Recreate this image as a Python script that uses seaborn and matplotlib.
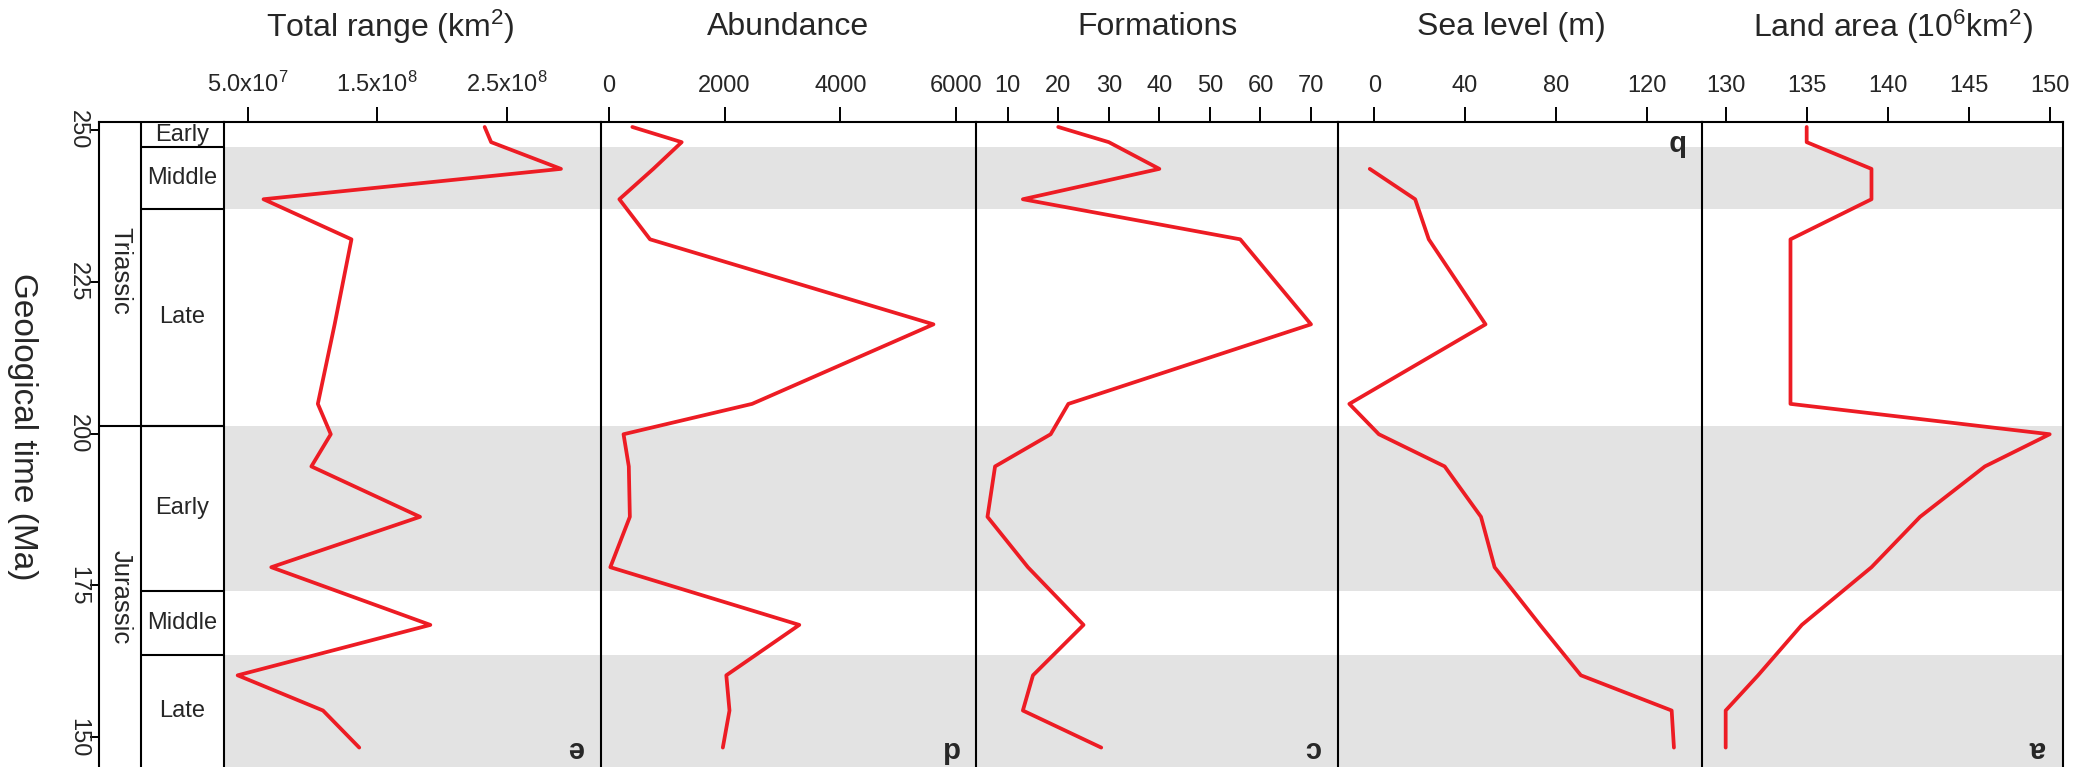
import numpy as np
import pandas as pd
import matplotlib
matplotlib.use("Agg")
import matplotlib.pyplot as plt
import seaborn as sns

# ---- data: one value per time bin (Ma), Early Triassic to Late Jurassic ----
age_ma = [250.5, 248.0, 243.6, 238.6, 232.0, 218.0, 204.9, 199.9,
          194.6, 186.3, 178.0, 168.5, 160.2, 154.4, 148.3]
total_range = [2.33e8, 2.38e8, 2.92e8, 6.2e7, 1.30e8, 1.17e8, 1.04e8, 1.14e8,
               0.99e8, 1.83e8, 0.68e8, 1.91e8, 4.2e7, 1.08e8, 1.36e8]
abundance = [408, 1260, 770, 184, 713, 5606, 2475, 256,
             347, 365, 28, 3290, 2030, 2085, 1970]
formations = [20, 30, 40, 13, 56, 70, 22, 18.5,
              7.5, 6, 14, 25, 15, 13, 28.5]
sea_level = [np.nan, np.nan, -2, 18, 24, 49, -11, 2,
             31, 47, 53, 73, 91, 131, 132]
land_area = [135, 135, 139, 139, 134, 134, 134, 150,
             146, 142, 139, 134.7, 132, 130, 130]

# stratigraphic units (Ma)
periods = [("Triassic", 252.2, 201.3), ("Jurassic", 201.3, 145.0)]
epochs = [("Early", 252.2, 247.2), ("Middle", 247.2, 237.0), ("Late", 237.0, 201.3),
          ("Early", 201.3, 174.1), ("Middle", 174.1, 163.5), ("Late", 163.5, 145.0)]
shaded = [(247.2, 237.0), (201.3, 174.1), (163.5, 145.0)]

panel_titles = ["Total range (km$^{2}$)", "Abundance", "Formations",
                "Sea level (m)", "Land area (10$^{6}$km$^{2}$)"]
panel_letters = ["e", "d", "c", "b", "a"]
panel_series = [total_range, abundance, formations, sea_level, land_area]
panel_ticks = [[5e7, 1.5e8, 2.5e8], [0, 2000, 4000, 6000],
               [10, 20, 30, 40, 50, 60, 70], [0, 40, 80, 120],
               [130, 135, 140, 145, 150]]
panel_ticklabels = [["5.0x10$^{7}$", "1.5x10$^{8}$", "2.5x10$^{8}$"],
                    ["0", "2000", "4000", "6000"],
                    ["10", "20", "30", "40", "50", "60", "70"],
                    ["0", "40", "80", "120"],
                    ["130", "135", "140", "145", "150"]]
time_ticks = [250, 225, 200, 175, 150]

# ---- layout ----
sns.set_style("white")
plt.rcParams["font.family"] = ["Liberation Sans", "DejaVu Sans"]
plt.rcParams["mathtext.fontset"] = "custom"
plt.rcParams["mathtext.rm"] = "Liberation Sans"
plt.rcParams["mathtext.default"] = "regular"

W, H = 2080, 767
fig = plt.figure(figsize=(W / 100, H / 100), dpi=100)
fig.patch.set_facecolor("white")

LINE_RED = "#ED1C24"
BAND_GREY = "#E3E3E3"
TOP, BOTTOM = 122, 767
YLIM = (145.1, 251.32)   # older ages at the top
edges = [224, 601, 975.7, 1338.3, 1701.7, 2063.3]
xlims = [(3.144e7, 3.2295e8), (-133, 6335), (3.67, 75.4), (-15.86, 144.23), (128.52, 150.84)]
title_x = [390, 788, 1157, 1511, 1893]


def px_axes(x0, x1, y0, y1):
    return fig.add_axes([x0 / W, 1 - y1 / H, (x1 - x0) / W, (y1 - y0) / H])


# stratigraphic column on the left
ax0 = px_axes(99.3, edges[0], TOP, BOTTOM)
ax0.set_xlim(0, 1)
ax0.set_ylim(*YLIM)
split = (141 - 99.3) / (edges[0] - 99.3)
for side in ["bottom", "right"]:
    ax0.spines[side].set_visible(False)
for side in ["top", "left"]:
    ax0.spines[side].set_linewidth(1.5)
    ax0.spines[side].set_color("black")
ax0.axvline(split, color="black", lw=1.5)
ax0.axhline(201.3, color="black", lw=1.5)
for name, start, end in epochs:
    if start < 252:
        ax0.plot([split, 1], [start, start], color="black", lw=1.5, solid_capstyle="butt")
    mid = (min(start, YLIM[1]) + max(end, YLIM[0])) / 2
    ax0.text((split + 1) / 2, mid, name, ha="center", va="center", fontsize=17)
for name, start, end in periods:
    mid = (start + end) / 2
    ax0.text(split / 2, mid, name, ha="center", va="center", fontsize=18.5, rotation=270)
ax0.set_xticks([])
ax0.set_yticks(time_ticks)
ax0.set_yticklabels([str(t) for t in time_ticks], rotation=270, va="center")
ax0.tick_params(axis="y", left=True, direction="out", length=6.5, width=1.4,
                labelsize=17, pad=1.0, color="black")
fig.text(22 / W, 1 - 427 / H, "Geological time (Ma)", rotation=270,
         ha="center", va="center", fontsize=24)

# data panels
for i in range(5):
    ax = px_axes(edges[i], edges[i + 1], TOP, BOTTOM)
    for older, younger in shaded:
        ax.axhspan(younger, older, color=BAND_GREY, lw=0, zorder=0)
    df = pd.DataFrame({"age": age_ma, "value": panel_series[i]}).dropna()
    sns.lineplot(data=df, x="value", y="age", sort=False, estimator=None,
                 color=LINE_RED, linewidth=2.7, ax=ax, zorder=3)
    ax.set_xlim(*xlims[i])
    ax.set_ylim(*YLIM)
    ax.set_xlabel("")
    ax.set_ylabel("")
    ax.set_yticks([])
    ax.set_xticks(panel_ticks[i])
    ax.set_xticklabels(panel_ticklabels[i])
    ax.xaxis.tick_top()
    ax.tick_params(axis="x", top=True, bottom=False, labeltop=True, labelbottom=False,
                   direction="out", length=10.8, width=1.4, labelsize=17, pad=7,
                   color="black")
    ax.spines["bottom"].set_visible(False)
    ax.spines["right"].set_visible(i == 4)
    for side in ["top", "left", "right"]:
        ax.spines[side].set_linewidth(1.5)
        ax.spines[side].set_color("black")
    ax.set_facecolor("none")
    ax.grid(False)

    width = edges[i + 1] - edges[i]
    lx = 1 - 26 / width
    ly = (BOTTOM - 749) / (BOTTOM - TOP) if panel_letters[i] != "b" else (BOTTOM - 142) / (BOTTOM - TOP)
    ax.text(lx, ly, panel_letters[i], transform=ax.transAxes, rotation=180,
            ha="center", va="center", fontsize=21, fontweight="bold")

    fig.text(title_x[i] / W, 1 - 27 / H, panel_titles[i], ha="center", va="center",
             fontsize=23)

fig.savefig("out.png", dpi=100, facecolor="white")
